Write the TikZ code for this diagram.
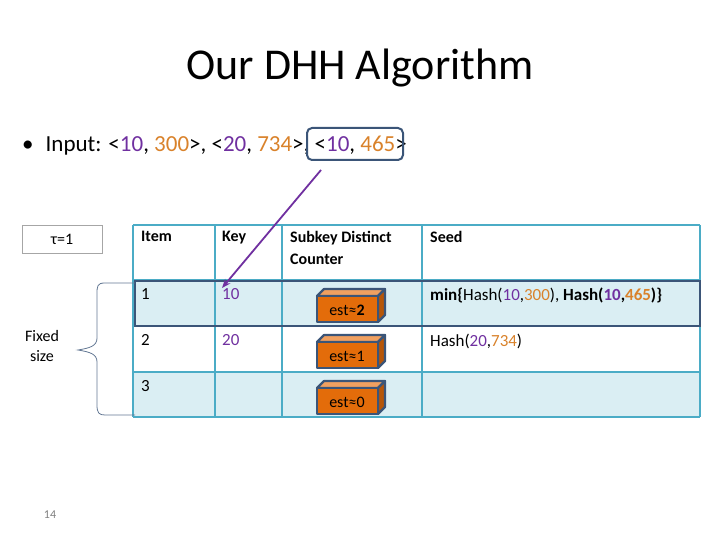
\documentclass[tikz,border=0pt]{standalone}
\usepackage{fontspec}
\setmainfont{Carlito}
\usetikzlibrary{arrows.meta}
\definecolor{pur}{HTML}{7030A0}
\definecolor{org}{HTML}{D9822B}
\definecolor{grid}{HTML}{4BACC6}
\definecolor{rowb}{HTML}{DAEEF3}
\definecolor{dk}{HTML}{3B5578}
\definecolor{cube}{HTML}{E36C0A}
\definecolor{cubet}{HTML}{F0A060}
\begin{document}
\begin{tikzpicture}[x=1pt,y=-1pt,
  txt/.style={anchor=north west,inner sep=0pt,font=\fontsize{17}{21}\selectfont},
  cell/.style={draw=grid,line width=1.2pt},
  cubebox/.style={draw=dk,line width=2.2pt,fill=cube,line join=round}]
\useasboundingbox (0,0) rectangle (720,540);
\node (title) at (360,68) {\fontsize{44}{48}\selectfont Our DHH Algorithm};
\node[anchor=west,inner sep=0pt,font=\fontsize{23}{27}\selectfont] (inp) at (22,146)
 {\textbullet\hspace{12pt}Input: <\textcolor{pur}{10}, \textcolor{org}{300}>, <\textcolor{pur}{20}, \textcolor{org}{734}>, <\textcolor{pur}{10}, \textcolor{org}{465}>};
\draw[dk,line width=2pt,rounded corners=5pt] (307,128) rectangle (403,160);
\coordinate (a0) at (321,170);
% table fills
\fill[white] (133,225) rectangle (700,280);
\fill[rowb] (133,280) rectangle (700,326);
\fill[white] (133,326) rectangle (700,372);
\fill[rowb] (133,372) rectangle (700,417);
\foreach \y in {225,280,326,372,417} \draw[cell] (133,\y) -- (700,\y);
\foreach \x in {133,215,282,422,700} \draw[cell] (\x,225) -- (\x,417);
\draw[dk,line width=2.2pt] (135,281) rectangle (700,326);
\node[txt,font=\fontsize{16}{21}\selectfont\bfseries] (h1) at (141,231) {Item};
\node[txt,font=\fontsize{16}{21}\selectfont\bfseries] (h2) at (222,231) {Key};
\node[txt,align=left,font=\fontsize{16}{22}\selectfont\bfseries] (h3) at (290,231) {Subkey Distinct\\Counter};
\node[txt,font=\fontsize{16}{21}\selectfont\bfseries] (h4) at (430,231) {Seed};
\node[txt] (r1) at (141,288) {1};
\node[txt,text=pur] (k1) at (222,288) {10};
\node[txt] (s1) at (430,288) {\textbf{min\{}Hash(\textcolor{pur}{10},\textcolor{org}{300}), \textbf{Hash(\textcolor{pur}{10},\textcolor{org}{465})\}}};
\node[txt] (r2) at (141,334) {2};
\node[txt,text=pur] (k2) at (222,334) {20};
\node[txt] (s2) at (430,334) {Hash(\textcolor{pur}{20},\textcolor{org}{734})};
\node[txt] (r3) at (141,380) {3};
\foreach \yy/\lab/\n in {296/{est≈\textbf{2}}/c1,342/{est≈1}/c2,388/{est≈0}/c3}{
  \draw[cubebox,fill=cubet] (317,\yy) -- (324,\yy-7) -- (385,\yy-7) -- (378,\yy) -- cycle;
  \draw[cubebox,fill=cube!80!black] (378,\yy) -- (385,\yy-7) -- (385,\yy+19) -- (378,\yy+26) -- cycle;
  \draw[cubebox] (317,\yy) rectangle (378,\yy+26);
  \node[font=\fontsize{16}{18}\selectfont] (\n) at (347,\yy+14) {\lab};
}
\draw[-{Stealth[length=9pt,width=7pt]},pur,line width=1.8pt] (a0) -- (k1.north west);
% tau
\node[draw=gray!70,minimum width=80pt,minimum height=28pt,inner sep=0pt,font=\fontsize{16}{18}\selectfont] (tau) at (62,239) {τ=1};
\node[align=center,font=\fontsize{16}{20}\selectfont] (fixed) at (42,346) {Fixed\\size};
\draw[dk!80,line width=0.8pt] (135,283) -- (105,283) .. controls (97,283) and (97,286) .. (97,295)
  -- (97,338) .. controls (97,346) and (90,348) .. (78,350)
  .. controls (90,352) and (97,354) .. (97,362) -- (97,405)
  .. controls (97,413) and (99,415) .. (105,415) -- (135,415);
\node[text=gray,font=\fontsize{12}{14}\selectfont] (pg) at (50,515) {14};
\end{tikzpicture}
\end{document}
